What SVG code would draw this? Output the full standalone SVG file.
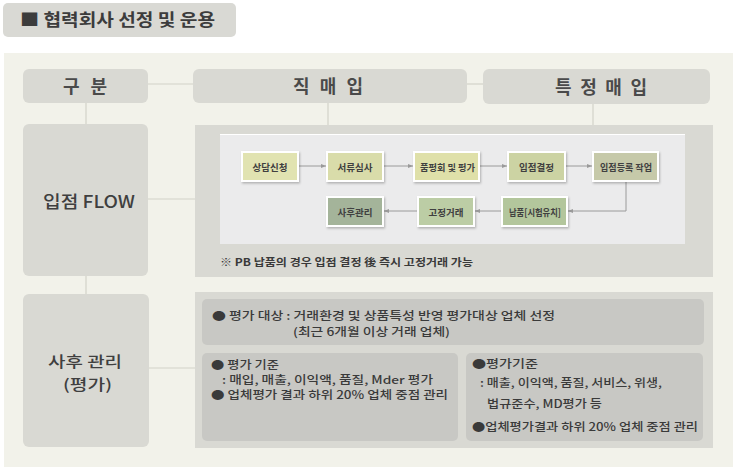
<svg xmlns="http://www.w3.org/2000/svg" width="737" height="469" viewBox="0 0 737 469">
<defs>
<style>
text{font-family:"Noto Sans CJK KR","Noto Sans",sans-serif;fill:#3f3f3f}
.hdr{fill:#d9d9d3}
.lbl{font-size:18px;font-weight:bold;fill:#4a4a4a}
.conn{stroke:#d2d2c8;stroke-width:1.2;fill:none}
.arr{stroke:#9a9a9a;stroke-width:1;fill:none;marker-end:url(#ah)}
.fb{stroke:#ffffff;stroke-width:2;filter:url(#sh)}
.ft{font-size:9.5px;font-weight:bold;fill:#404040;text-anchor:middle}
.et{font-size:11px;font-weight:500;fill:#3a3a3a}
.big{font-size:15px;font-weight:500;fill:#3f3f3f}
.box{fill:#c8c8c4}
</style>
<marker id="ah" markerWidth="6" markerHeight="6" refX="5" refY="3" orient="auto" markerUnits="userSpaceOnUse">
<path d="M0,1 L5,3 L0,5 Z" fill="#9a9a9a"/>
</marker>
<filter id="sh" x="-20%" y="-20%" width="140%" height="150%">
<feDropShadow dx="1" dy="1.5" stdDeviation="1" flood-color="#000" flood-opacity="0.25"/>
</filter>
</defs>
<rect width="737" height="469" fill="#ffffff"/>
<g id="title">
<rect x="3" y="3" width="233" height="34" rx="5" fill="#d9d9d4"/>
<text x="20" y="26" textLength="195" lengthAdjust="spacingAndGlyphs" style="font-size:17px;font-weight:bold;fill:#3c3c3c">■ 협력회사 선정 및 운용</text>
</g>
<rect x="4" y="53" width="729" height="414" fill="#f2f2ea"/>
<g id="flow-panel">
<rect x="195" y="125" width="518" height="152" fill="#d9d9d3"/>
<rect x="220" y="134" width="465" height="110" fill="#ebebec"/>
<line x1="220" y1="134.5" x2="685" y2="134.5" stroke="#ffffff" stroke-width="1"/>
<text x="220" y="266" textLength="253" lengthAdjust="spacingAndGlyphs" style="font-size:10.5px;font-weight:bold;fill:#3a3a3a">※ PB 납품의 경우 입점 결정 後 즉시 고정거래 가능</text>
</g>
<g id="eval-panel">
<rect x="195" y="292" width="518" height="156" fill="#d9d9d3"/>
</g>
<g id="connectors">
<line class="conn" x1="148" y1="84" x2="193" y2="84"/>
<line class="conn" x1="467" y1="84" x2="483" y2="84"/>
<line class="conn" x1="86" y1="103" x2="86" y2="124"/>
<line class="conn" x1="328" y1="103" x2="328" y2="125"/>
<line class="conn" x1="593" y1="104" x2="593" y2="125"/>
<line class="conn" x1="148" y1="199" x2="195" y2="199"/>
<line class="conn" x1="86" y1="276" x2="86" y2="294"/>
<line class="conn" x1="149" y1="368" x2="195" y2="368"/>
<path class="arr" d="M299,166 H326"/>
<path class="arr" d="M384,166 H413"/>
<path class="arr" d="M480,166 H507"/>
<path class="arr" d="M566,166 H592"/>
<path class="arr" d="M626,182 V211 H568"/>
<path class="arr" d="M501,211 H475"/>
<path class="arr" d="M417,211 H384"/>
</g>
<g id="gubun">
<rect class="hdr" x="23" y="69" width="125" height="34" rx="6"/>
<text class="lbl" x="63" y="93" textLength="44" lengthAdjust="spacing">구 분</text>
</g>
<g id="jikmaeip">
<rect class="hdr" x="193" y="69" width="274" height="34" rx="6"/>
<text class="lbl" x="293" y="93" textLength="70" lengthAdjust="spacing">직 매 입</text>
</g>
<g id="teukjeong">
<rect class="hdr" x="483" y="69" width="227" height="35" rx="6"/>
<text class="lbl" x="555" y="94" textLength="92" lengthAdjust="spacing">특 정 매 입</text>
</g>
<g id="flow-label">
<rect class="hdr" x="23" y="124" width="125" height="152" rx="6"/>
<text class="big" x="43" y="208" textLength="92" lengthAdjust="spacingAndGlyphs" style="font-size:17px">입점 FLOW</text>
</g>
<g id="post-label">
<rect class="hdr" x="23" y="294" width="126" height="153" rx="6"/>
<text class="big" x="48" y="367" textLength="74" lengthAdjust="spacingAndGlyphs">사후 관리</text>
<text class="big" x="63" y="390" textLength="49" lengthAdjust="spacingAndGlyphs">(평가)</text>
</g>
<g id="n1"><rect class="fb" x="242" y="152" width="56" height="29" fill="#e1e3b1"/><text class="ft" x="270" y="171">상담신청</text></g>
<g id="n2"><rect class="fb" x="327" y="152" width="56" height="29" fill="#d9dcaa"/><text class="ft" x="355" y="171">서류심사</text></g>
<g id="n3"><rect class="fb" x="414" y="152" width="65" height="29" fill="#dfe0a9"/><text class="ft" x="447.5" y="171" textLength="55" lengthAdjust="spacingAndGlyphs">품평회 및 평가</text></g>
<g id="n4"><rect class="fb" x="508" y="152" width="57" height="29" fill="#ccd3a3"/><text class="ft" x="536.5" y="171">입점결정</text></g>
<g id="n5"><rect class="fb" x="593" y="152" width="65" height="29" fill="#c6c9a9"/><text class="ft" x="626" y="171" textLength="52" lengthAdjust="spacingAndGlyphs">입점등록 작업</text></g>
<g id="n6"><rect class="fb" x="502" y="197" width="65" height="29" fill="#b3c69c"/><text class="ft" x="535" y="216" textLength="52" lengthAdjust="spacingAndGlyphs">납품[시험유치]</text></g>
<g id="n7"><rect class="fb" x="418" y="197" width="56" height="29" fill="#bccda5"/><text class="ft" x="446" y="216">고정거래</text></g>
<g id="n8"><rect class="fb" x="327" y="197" width="56" height="29" fill="#a4b49a"/><text class="ft" x="355" y="216">사후관리</text></g>
<g id="eval-target">
<rect class="box" x="202" y="299" width="502" height="46" rx="5"/>
<text class="et" x="212" y="320" textLength="343" lengthAdjust="spacingAndGlyphs">● 평가 대상 : 거래환경 및 상품특성 반영 평가대상 업체 선정</text>
<text class="et" x="293" y="336" textLength="157" lengthAdjust="spacingAndGlyphs">(최근 6개월 이상 거래 업체)</text>
</g>
<g id="eval-direct">
<rect class="box" x="202" y="353" width="256" height="88" rx="5"/>
<text class="et" x="211" y="369" textLength="68" lengthAdjust="spacingAndGlyphs">● 평가 기준</text>
<text class="et" x="222" y="384" textLength="211" lengthAdjust="spacingAndGlyphs">: 매입, 매출, 이익액, 품질, Mder 평가</text>
<text class="et" x="211" y="399" textLength="237" lengthAdjust="spacingAndGlyphs">● 업체평가 결과 하위 20% 업체 중점 관리</text>
</g>
<g id="eval-special">
<rect class="box" x="466" y="353" width="237" height="88" rx="5"/>
<text class="et" x="472" y="368" textLength="66" lengthAdjust="spacingAndGlyphs">●평가기준</text>
<text class="et" x="480" y="387" textLength="182" lengthAdjust="spacingAndGlyphs">: 매출, 이익액, 품질, 서비스, 위생,</text>
<text class="et" x="487" y="408" textLength="115" lengthAdjust="spacingAndGlyphs">법규준수, MD평가 등</text>
<text class="et" x="472" y="431" textLength="226" lengthAdjust="spacingAndGlyphs">●업체평가결과 하위 20% 업체 중점 관리</text>
</g>
</svg>
